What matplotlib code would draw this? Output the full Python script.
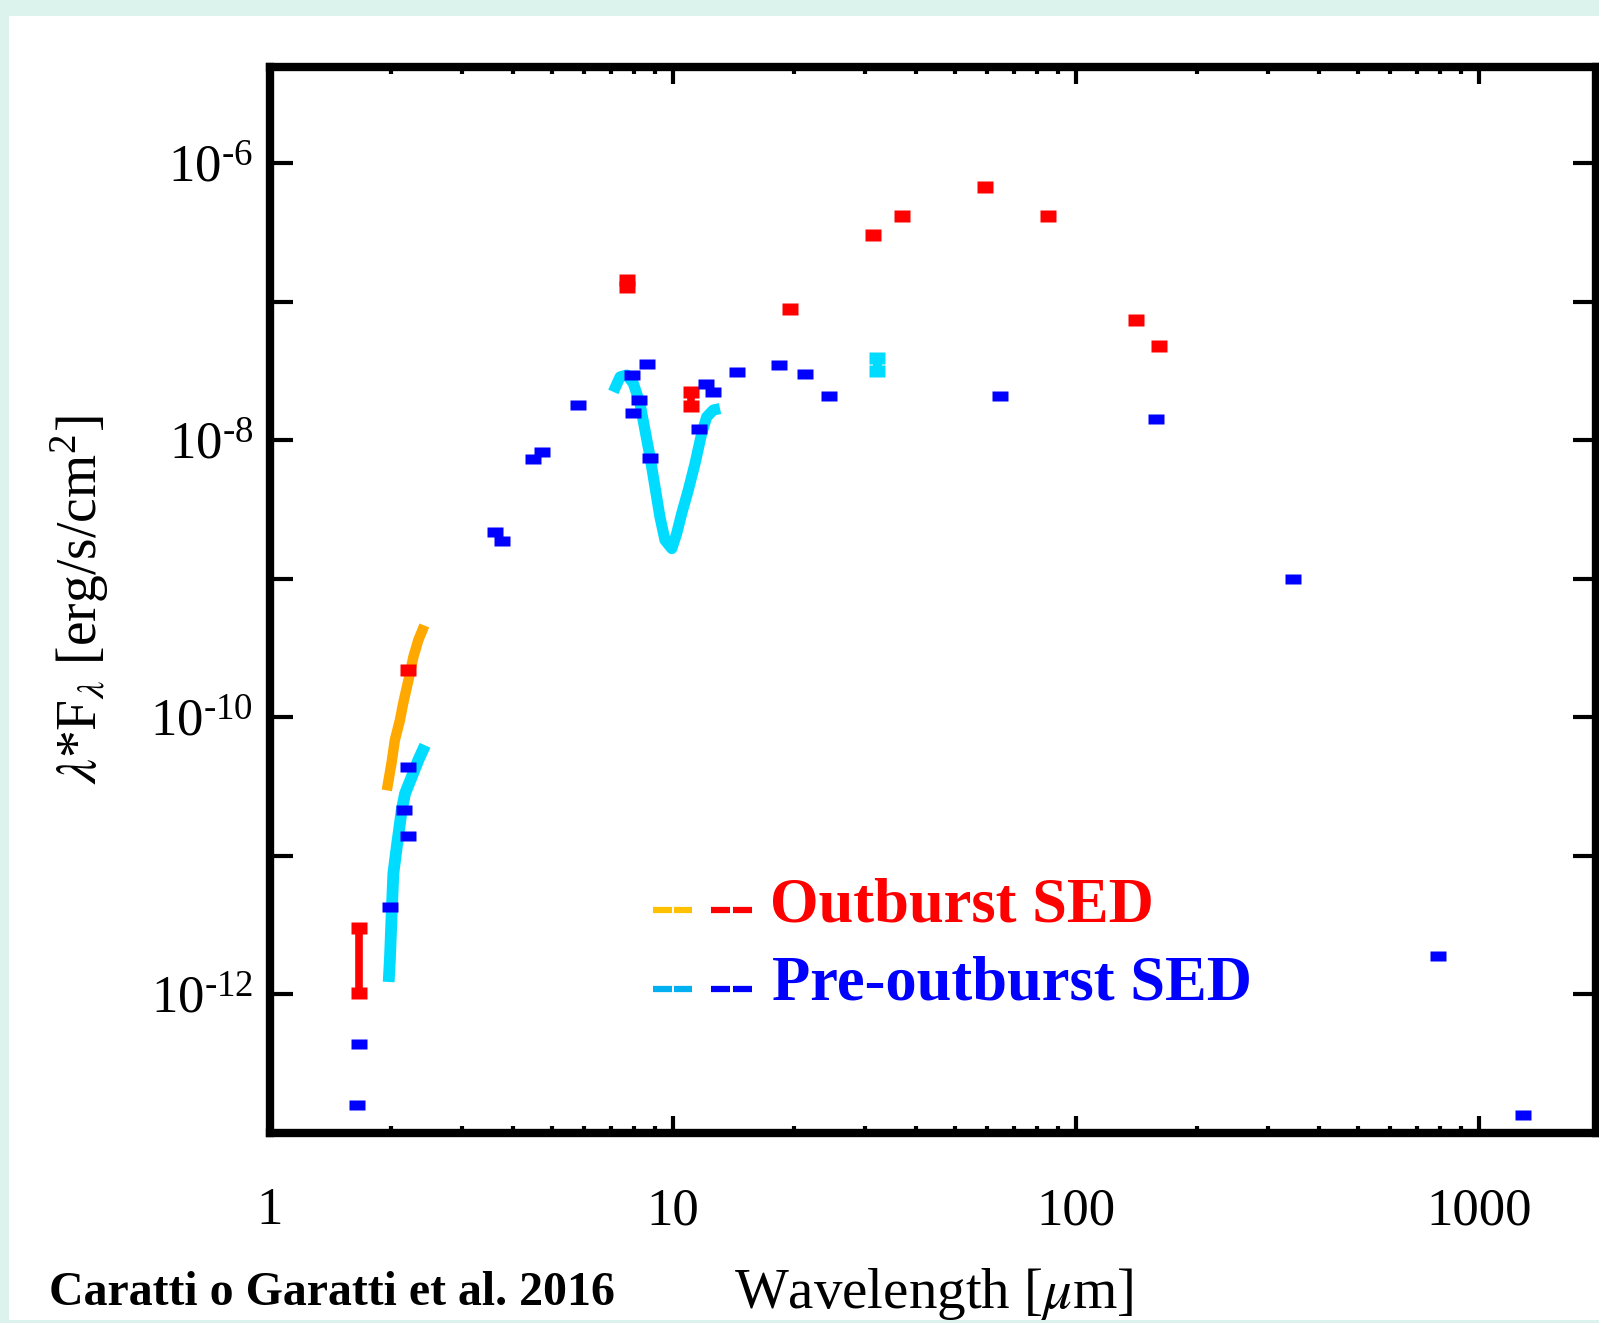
import numpy as np
import matplotlib
matplotlib.use('Agg')
import matplotlib.pyplot as plt
from matplotlib.path import Path
from matplotlib.lines import Line2D
from matplotlib.patches import Rectangle
from matplotlib.ticker import FixedLocator, FuncFormatter, NullLocator, LogLocator, NullFormatter

plt.rcParams['font.family'] = ['Liberation Serif', 'DejaVu Serif']
plt.rcParams['mathtext.fontset'] = 'custom'
plt.rcParams['mathtext.rm'] = 'Liberation Serif'
plt.rcParams['mathtext.it'] = 'STIXGeneral:italic'
plt.rcParams['mathtext.bf'] = 'Liberation Serif:bold'

# ---------------- data ----------------
# Pre-outburst photometry (blue)
pre_wl = [1.64, 1.66, 1.99, 2.2, 2.15, 2.2, 3.61, 3.76, 4.5, 4.72, 5.82, 7.9, 8.6,
          7.97, 8.25, 8.75, 12.1, 12.55, 11.6, 14.4, 18.3, 21.2, 24.4, 64.6, 158,
          346, 791, 1283]
pre_flux = [1.6e-13, 4.4e-13, 4.3e-12, 1.38e-11, 2.13e-11, 4.4e-11, 2.19e-9, 1.88e-9,
            7.3e-9, 8.2e-9, 1.79e-8, 2.96e-8, 3.54e-8, 1.57e-8, 1.95e-8, 7.4e-9,
            2.54e-8, 2.23e-8, 1.21e-8, 3.08e-8, 3.48e-8, 2.98e-8, 2.09e-8, 2.09e-8,
            1.42e-8, 1.0e-9, 1.89e-12, 1.35e-13]
# Pre-outburst range point (cyan)
pre_rng_wl = [32.1]
pre_rng_lo = [3.18e-8]
pre_rng_hi = [3.93e-8]

# Pre-outburst K-band spectrum (cyan)
pre_k_wl = [1.97, 1.985, 2.004, 2.023, 2.063, 2.122, 2.163, 2.247, 2.333, 2.425]
pre_k_flux = [1.23e-12, 1.86e-12, 3.83e-12, 7.43e-12, 1.16e-11, 2.13e-11, 2.81e-11,
              3.71e-11, 4.9e-11, 6.28e-11]
# Pre-outburst N-band spectrum (cyan)
pre_n_wl = [7.11, 7.39, 7.68, 7.97, 8.28, 8.52, 8.77, 9.02, 9.28, 9.55, 9.93, 10.21,
            10.51, 10.91, 11.34, 11.78, 12.12, 12.59, 13.08]
pre_n_flux = [2.23e-8, 2.86e-8, 2.95e-8, 2.57e-8, 1.84e-8, 1.18e-8, 7.57e-9, 4.6e-9,
              2.79e-9, 1.9e-9, 1.65e-9, 2.12e-9, 2.96e-9, 4.36e-9, 6.79e-9, 1.12e-8,
              1.47e-8, 1.65e-8, 1.69e-8]

# Outburst photometry (red)
out_wl = [2.2, 19.5, 31.4, 36.9, 59.5, 85.4, 141, 161]
out_flux = [2.19e-10, 8.8e-8, 3.04e-7, 4.13e-7, 6.76e-7, 4.13e-7, 7.33e-8, 4.8e-8]
# Outburst range points (red)
out_rng_wl = [1.66, 7.7, 11.1]
out_rng_lo = [1.03e-12, 1.28e-7, 1.77e-8]
out_rng_hi = [3.0e-12, 1.42e-7, 2.22e-8]
# Outburst K-band spectrum (orange)
out_k_wl = [1.949, 2.004, 2.04, 2.10, 2.14, 2.205, 2.268, 2.333, 2.415]
out_k_flux = [2.97e-11, 4.75e-11, 6.82e-11, 9.5e-11, 1.26e-10, 1.85e-10, 2.72e-10,
              3.6e-10, 4.6e-10]

x_ticks = [1, 10, 100, 1000]
y_exps = list(range(-13, -5))

BLUE = '#0000ff'
RED = '#ff0000'
CYAN = '#00dcff'
ORANGE = '#ffa800'

# ---------------- figure ----------------
W, H = 1599, 1323
fig = plt.figure(figsize=(W / 100, H / 100), dpi=100)
fig.patch.set_facecolor('#dcf2ec')
fig.add_artist(Rectangle((9 / W, 3 / H), 1 - 9 / W, (H - 16 - 3) / H,
                         transform=fig.transFigure, facecolor='white',
                         edgecolor='none', zorder=-10))

ax_l, ax_r, ax_t, ax_b = 270, 1596, 67, 1133
ax = fig.add_axes([ax_l / W, 1 - ax_b / H, (ax_r - ax_l) / W, (ax_b - ax_t) / H])
ax.set_xscale('log')
ax.set_yscale('log')
ax.set_xlim(1, 1950)
ax.set_ylim(1e-13, 4.93e-6)


def rect_marker(h):
    v = [(-0.5, -h), (0.5, -h), (0.5, h), (-0.5, h), (-0.5, -h)]
    return Path(v, closed=True)


mk_b = rect_marker(0.31)
mk_r = rect_marker(0.38)
ms = 11

# spectra
ax.plot(out_k_wl, out_k_flux, color=ORANGE, lw=7.5, solid_capstyle='butt', zorder=2)
ax.plot(pre_k_wl, pre_k_flux, color=CYAN, lw=8.5, solid_capstyle='butt', zorder=2)
ax.plot(pre_n_wl, pre_n_flux, color=CYAN, lw=8, solid_capstyle='butt',
        solid_joinstyle='round', zorder=2)

# range points
ax.vlines(out_rng_wl, out_rng_lo, out_rng_hi, color=RED, lw=5.5, zorder=3)
ax.plot(out_rng_wl, out_rng_lo, ls='none', marker=mk_r, ms=ms, mec='none', color=RED, zorder=3)
ax.plot(out_rng_wl, out_rng_hi, ls='none', marker=mk_r, ms=ms, mec='none', color=RED, zorder=3)
ax.vlines(pre_rng_wl, pre_rng_lo, pre_rng_hi, color=CYAN, lw=6.5, zorder=3)
ax.plot(pre_rng_wl, pre_rng_lo, ls='none', marker=mk_r, ms=ms, mec='none', color=CYAN, zorder=3)
ax.plot(pre_rng_wl, pre_rng_hi, ls='none', marker=mk_r, ms=ms, mec='none', color=CYAN, zorder=3)

# photometry
ax.plot(pre_wl, pre_flux, ls='none', marker=mk_b, ms=ms, mec='none', color=BLUE, zorder=4)
ax.plot(out_wl, out_flux, ls='none', marker=mk_r, ms=ms, mec='none', color=RED, zorder=4)

# axes styling
for s in ax.spines.values():
    s.set_linewidth(6)
ax.xaxis.set_major_locator(FixedLocator(x_ticks))
ax.xaxis.set_major_formatter(FuncFormatter(lambda v, p: f'{v:g}'))
ax.xaxis.set_minor_locator(LogLocator(base=10, subs=range(2, 10)))
ax.xaxis.set_minor_formatter(NullFormatter())
ax.yaxis.set_major_locator(FixedLocator([10.0 ** e for e in y_exps]))


def yfmt(v, p):
    e = int(round(np.log10(v)))
    return r'$\mathregular{10^{\text{-%d}}}$' % (-e) if e % 2 == 0 else ''


ax.yaxis.set_major_formatter(FuncFormatter(yfmt))
ax.yaxis.set_minor_locator(NullLocator())
ax.tick_params(which='both', direction='in', top=True, right=True, width=3, colors='black')
ax.tick_params(axis='x', which='major', length=12, pad=39, labelsize=38)
ax.tick_params(axis='x', which='minor', length=5)
ax.tick_params(axis='y', which='major', length=16.5, pad=12, labelsize=38)

# labels
fig.text(80 / W, 1 - 600 / H, r'$\lambda$*F$_\lambda$ [erg/s/cm$^2$]', rotation=90,
         ha='center', va='center', fontsize=40)
fig.text(934 / W, 1 - 1294 / H, r'Wavelength [$\mu$m]', ha='center', va='center', fontsize=41)
fig.text(49 / W, 1 - 1293 / H, 'Caratti o Garatti et al. 2016', ha='left', va='center',
         fontsize=34.5, fontweight='bold')

# legend
def key(x0, x1, y, color):
    fig.add_artist(Line2D([x0 / W, x1 / W], [1 - y / H, 1 - y / H], color=color, lw=4.5,
                          solid_capstyle='butt', transform=fig.transFigure))

for y, c1, c2, label, tc, x_text in [(910, '#ffc000', RED, 'Outburst SED', RED, 770),
                                      (989, '#00b0f0', BLUE, 'Pre-outburst SED', BLUE, 772)]:
    key(653, 672, y, c1)
    key(674, 692, y, c1)
    key(711, 730, y, c2)
    key(733, 752, y, c2)
    fig.text(x_text / W, 1 - (y - 4) / H, label, color=tc, fontsize=45, fontweight='bold',
             ha='left', va='center')

fig.savefig('out.png', dpi=100, facecolor=fig.get_facecolor())
